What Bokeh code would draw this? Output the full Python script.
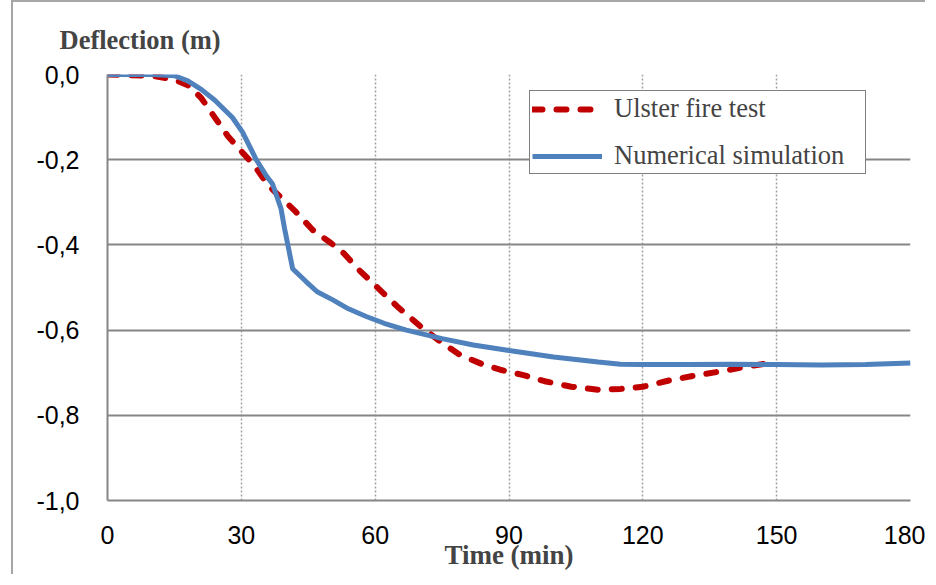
from bokeh.plotting import figure
from bokeh.models import Range1d, FixedTicker, CustomJSTickFormatter, Legend, LegendItem
from bokeh.embed import file_html
from bokeh.resources import INLINE

# ---- data ----
sim_time = [0, 5, 10, 15, 18, 21, 24, 28, 30.3, 33.3, 35.6, 37, 38.9, 39.7, 41.5, 44.5,
            47, 50.5, 54, 58, 62, 67, 75, 82, 90, 100, 110, 115, 120, 130, 140, 150,
            160, 170, 180]
sim_defl = [0, 0, 0, -0.003, -0.015, -0.035, -0.06, -0.101, -0.136, -0.199, -0.238,
            -0.257, -0.315, -0.362, -0.456, -0.486, -0.51, -0.529, -0.55, -0.568,
            -0.584, -0.6, -0.62, -0.635, -0.648, -0.663, -0.675, -0.68, -0.681, -0.681,
            -0.68, -0.681, -0.682, -0.681, -0.677]

test_time = [0, 10, 15, 18, 21, 24, 27, 30, 33, 36, 39, 42, 46, 50, 53, 56, 60, 65,
             70, 75, 79, 84, 88, 93, 98, 104, 110, 115, 120, 126, 132, 138, 143, 150]
test_defl = [0, -0.003, -0.012, -0.025, -0.055, -0.1, -0.145, -0.18, -0.215, -0.26,
             -0.29, -0.32, -0.365, -0.395, -0.42, -0.455, -0.495, -0.545, -0.59, -0.63,
             -0.658, -0.68, -0.693, -0.705, -0.72, -0.733, -0.74, -0.738, -0.733,
             -0.718, -0.706, -0.696, -0.686, -0.675]

x_ticks = [0, 30, 60, 90, 120, 150, 180]
y_ticks = [-1.0, -0.8, -0.6, -0.4, -0.2, 0.0]
y_title = "Deflection (m)"
x_title = "Time (min)"

p = figure(width=914, height=574, output_backend="svg", toolbar_location=None,
           x_range=Range1d(x_ticks[0], x_ticks[-1]), y_range=Range1d(y_ticks[0], y_ticks[-1]),
           min_border_left=94, min_border_top=72, min_border_right=17,
           min_border_bottom=76, title=y_title)
p.styles = {"margin-left": "11px",
            "border-top": "2px solid #a6a6a6", "border-left": "2px solid #a6a6a6"}
p.outline_line_color = None
p.background_fill_color = "white"
p.border_fill_color = "white"

p.title.text_font = "Liberation Serif"
p.title.text_font_size = "26.5px"
p.title.text_font_style = "bold"
p.title.align = "left"
p.title.offset = -48
p.title.standoff = 40

gray = "#868686"
for ax in (p.xaxis[0], p.yaxis[0]):
    ax.axis_line_color = gray
    ax.axis_line_width = 2
    ax.major_tick_line_color = None
    ax.minor_tick_line_color = None
    ax.major_label_text_font = "Liberation Sans"
    ax.major_label_text_font_size = "25px"
    ax.major_label_text_color = "black"

p.xaxis.ticker = FixedTicker(ticks=x_ticks)
p.yaxis.ticker = FixedTicker(ticks=y_ticks)
p.yaxis.formatter = CustomJSTickFormatter(code="return tick.toFixed(1).replace('.', ',');")
p.xaxis.major_label_standoff = 19
p.yaxis.major_label_standoff = 22

p.xaxis.axis_label = x_title
p.xaxis.axis_label_text_font = "Liberation Serif"
p.xaxis.axis_label_text_font_size = "27px"
p.xaxis.axis_label_text_font_style = "bold"
p.xaxis.axis_label_standoff = -7

p.ygrid.grid_line_color = gray
p.ygrid.grid_line_width = 2
p.xgrid.grid_line_color = "#a0a0a0"
p.xgrid.grid_line_width = 1.5
p.xgrid.grid_line_dash = "2 2"

r_test = p.line(test_time, test_defl, line_color="#C00000", line_width=6,
                line_dash="10 14", line_cap="round")
r_sim = p.line(sim_time, sim_defl, line_color="#4F81BD", line_width=5)

legend = Legend(items=[LegendItem(label="Ulster fire test", renderers=[r_test]),
                       LegendItem(label="Numerical simulation", renderers=[r_sim])],
                location=(422, 326))
legend.label_text_font = "Liberation Serif"
legend.label_text_font_size = "26.5px"
legend.glyph_width = 70
legend.glyph_height = 28
legend.label_height = 28
legend.label_width = 249
legend.label_standoff = 12
legend.spacing = 16
legend.padding = 2
legend.margin = 0
legend.border_line_color = "black"
legend.border_line_width = 1.5
legend.background_fill_alpha = 1
p.add_layout(legend, "center")

open("out.html", "w").write(file_html(p, INLINE))
